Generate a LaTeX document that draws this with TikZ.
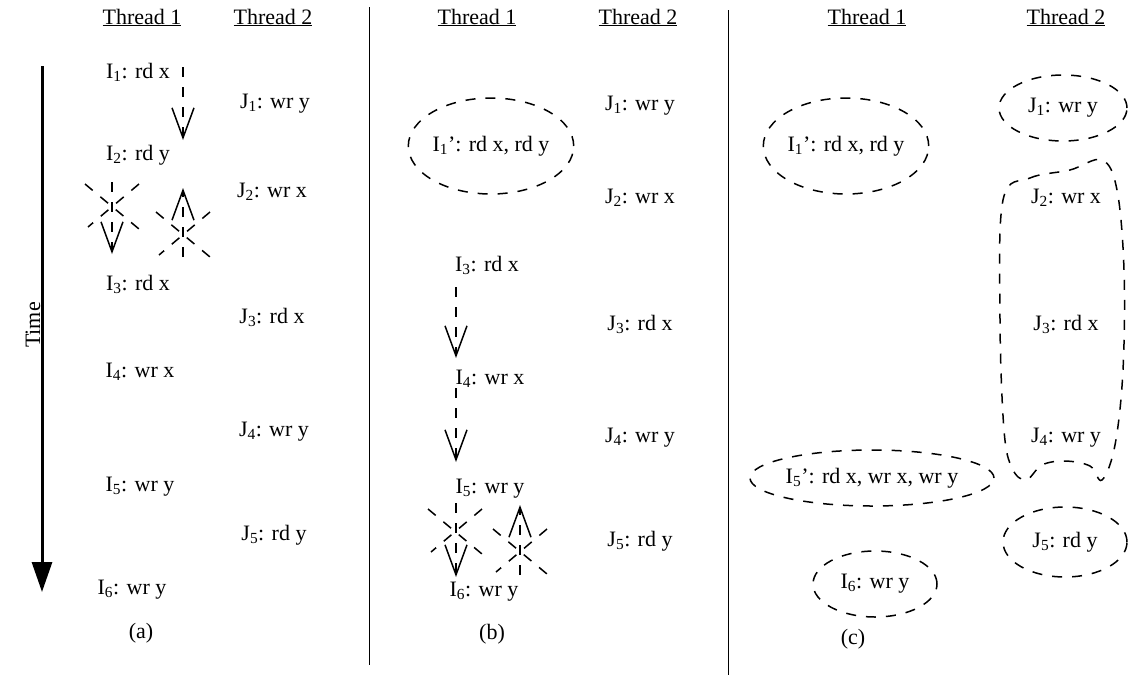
\documentclass[tikz,border=0pt]{standalone}
\usepackage{fontspec}
\setmainfont{Liberation Serif}
\usetikzlibrary{arrows.meta,shapes.geometric}

\newcommand{\op}[3]{#1\textsubscript{#2}: #3}

\tikzset{
  every node/.style={font=\fontsize{22}{26}\selectfont,inner sep=0pt},
  dsh/.style={line width=1.5pt,dash pattern=on 10pt off 10pt},
  dep/.style={dsh,-{Straight Barb[length=30pt,width=22pt,line width=1.5pt]}},
  blob/.style={draw,dsh,ellipse},
  head/.style={anchor=base},
  conflict/.pic={
    \draw[dsh] (-27,-21) -- (27,24);
    \draw[dsh] (27,-21) -- (-24,22);
  }
}

\begin{document}
\begin{tikzpicture}[x=1pt,y=-1pt]
  \useasboundingbox (0,0) rectangle (1128,675);

  % Panel dividers.
  \draw[line width=1pt] (369,7) -- (369,665);
  \draw[line width=1pt] (728,10) -- (728,675);

  % (a) original order.
  \node[head] (ta1) at (142,24) {\underline{Thread 1}};
  \node[head] (ta2) at (273,24) {\underline{Thread 2}};
  \draw[line width=3pt,-{Triangle[length=30pt,width=20pt]}] (42,66) -- (42,592);
  \node[rotate=90] (time) at (33,325) {Time};

  \node (ai1) at (138,72) {\op{I}{1}{rd x}};
  \node (ai2) at (138,155) {\op{I}{2}{rd y}};
  \node (ai3) at (138,284) {\op{I}{3}{rd x}};
  \node (ai4) at (140,372) {\op{I}{4}{wr x}};
  \node (ai5) at (140,487) {\op{I}{5}{wr y}};
  \node (ai6) at (132,590) {\op{I}{6}{wr y}};
  \node (aj1) at (275,104) {\op{J}{1}{wr y}};
  \node (aj2) at (272,192) {\op{J}{2}{wr x}};
  \node (aj3) at (272,317) {\op{J}{3}{rd x}};
  \node (aj4) at (274,432) {\op{J}{4}{wr y}};
  \node (aj5) at (274,535) {\op{J}{5}{rd y}};
  \node (capa) at (141,633) {(a)};

  \coordinate (a1s) at (183,67);
  \coordinate (a1e) at (183,140);
  \draw[dep] (a1s) -- (a1e);
  \coordinate (a2s) at (112,182);
  \coordinate (a2e) at (112,254);
  \draw[dep] (a2s) -- (a2e);
  \pic at (112,205) {conflict};
  \coordinate (a3s) at (183,257);
  \coordinate (a3e) at (183,188);
  \draw[dep] (a3s) -- (a3e);
  \pic at (183,233) {conflict};

  % (b) first merge.
  \node[head] (tb1) at (477,24) {\underline{Thread 1}};
  \node[head] (tb2) at (638,24) {\underline{Thread 2}};
  \node[blob,minimum width=154pt,minimum height=96pt] (bi1) at (491,146)
    {I\textsubscript{1}’: rd x, rd y};
  \node (bi3) at (487,265) {\op{I}{3}{rd x}};
  \node (bi4) at (490,379) {\op{I}{4}{wr x}};
  \node (bi5) at (490,489) {\op{I}{5}{wr y}};
  \node (bi6) at (484,592) {\op{I}{6}{wr y}};
  \node (bj1) at (640,106) {\op{J}{1}{wr y}};
  \node (bj2) at (640,198) {\op{J}{2}{wr x}};
  \node (bj3) at (640,324) {\op{J}{3}{rd x}};
  \node (bj4) at (640,438) {\op{J}{4}{wr y}};
  \node (bj5) at (640,541) {\op{J}{5}{rd y}};
  \node (capb) at (492,634) {(b)};

  \coordinate (b1s) at (456,287);
  \coordinate (b1e) at (456,358);
  \draw[dep] (b1s) -- (b1e);
  \coordinate (b2s) at (456,388);
  \coordinate (b2e) at (456,462);
  \draw[dep] (b2s) -- (b2e);
  \coordinate (b3s) at (456,503);
  \coordinate (b3e) at (456,577);
  \draw[dep] (b3s) -- (b3e);
  \pic at (455,530) {conflict};
  \coordinate (b4s) at (520,575);
  \coordinate (b4e) at (520,505);
  \draw[dep] (b4s) -- (b4e);
  \pic at (520,550) {conflict};

  % (c) grouped.
  \node[head] (tc1) at (867,24) {\underline{Thread 1}};
  \node[head] (tc2) at (1066,24) {\underline{Thread 2}};
  \node[blob,minimum width=154pt,minimum height=96pt] (ci1) at (846,146)
    {I\textsubscript{1}’: rd x, rd y};
  \node[blob,minimum width=238pt,minimum height=56pt] (ci5) at (872,478)
    {I\textsubscript{5}’: rd x, wr x, wr y};
  \node[blob,minimum width=124pt,minimum height=66pt] (ci6) at (875,584)
    {\op{I}{6}{wr y}};
  \node[blob,minimum width=128pt,minimum height=66pt] (cj1) at (1063,108)
    {\op{J}{1}{wr y}};
  \node (cj2) at (1066,198) {\op{J}{2}{wr x}};
  \node (cj3) at (1066,324) {\op{J}{3}{rd x}};
  \node (cj4) at (1066,438) {\op{J}{4}{wr y}};
  \node[blob,minimum width=124pt,minimum height=70pt] (cj5) at (1065,542)
    {\op{J}{5}{rd y}};
  \draw[dsh] plot[smooth cycle,tension=0.6] coordinates {
    (1003,200) (1030,178) (1070,170) (1102,160) (1117,190) (1124,270)
    (1123,370) (1115,445) (1102,480) (1090,466) (1065,461) (1042,465)
    (1026,480) (1012,468) (1004,430) (1000,320)};
  \node (capc) at (853,639) {(c)};
\end{tikzpicture}
\end{document}
